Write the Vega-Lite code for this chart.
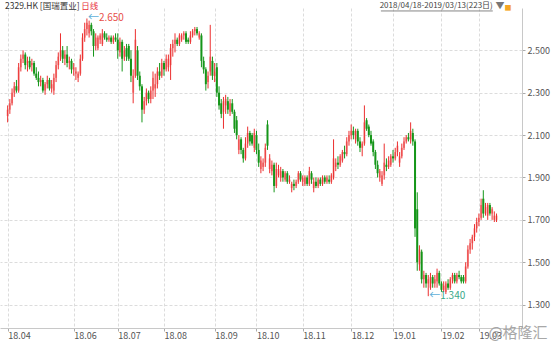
{
  "$schema": "https://vega.github.io/schema/vega-lite/v6.json",
  "width": 522,
  "height": 320,
  "autosize": {"type": "none"},
  "padding": {"left": 0, "top": 8, "right": 31, "bottom": 14},
  "background": "white",
  "config": {"view": {"stroke": null}, "font": "Noto Sans CJK SC"},
  "datasets": {
    "k": [
      {"i":0,"o":2.19,"h":2.24,"l":2.16,"c":2.22},{"i":1,"o":2.22,"h":2.27,"l":2.20,"c":2.25},{"i":2,"o":2.25,"h":2.32,"l":2.24,"c":2.30},{"i":3,"o":2.30,"h":2.35,"l":2.28,"c":2.33},{"i":4,"o":2.33,"h":2.36,"l":2.30,"c":2.31},{"i":5,"o":2.31,"h":2.44,"l":2.30,"c":2.42},{"i":6,"o":2.42,"h":2.48,"l":2.40,"c":2.46},{"i":7,"o":2.46,"h":2.50,"l":2.44,"c":2.48},{"i":8,"o":2.48,"h":2.49,"l":2.41,"c":2.43},{"i":9,"o":2.44,"h":2.47,"l":2.40,"c":2.45},
      {"i":10,"o":2.45,"h":2.47,"l":2.41,"c":2.42},{"i":11,"o":2.43,"h":2.46,"l":2.40,"c":2.44},{"i":12,"o":2.44,"h":2.45,"l":2.38,"c":2.39},{"i":13,"o":2.39,"h":2.42,"l":2.36,"c":2.37},{"i":14,"o":2.37,"h":2.40,"l":2.33,"c":2.35},{"i":15,"o":2.35,"h":2.38,"l":2.33,"c":2.36},{"i":16,"o":2.36,"h":2.37,"l":2.30,"c":2.31},{"i":17,"o":2.31,"h":2.35,"l":2.29,"c":2.34},{"i":18,"o":2.34,"h":2.38,"l":2.32,"c":2.36},{"i":19,"o":2.36,"h":2.37,"l":2.31,"c":2.32},
      {"i":20,"o":2.32,"h":2.36,"l":2.30,"c":2.34},{"i":21,"o":2.31,"h":2.39,"l":2.29,"c":2.37},{"i":22,"o":2.37,"h":2.45,"l":2.35,"c":2.43},{"i":23,"o":2.43,"h":2.49,"l":2.41,"c":2.47},{"i":24,"o":2.47,"h":2.58,"l":2.45,"c":2.50},{"i":25,"o":2.50,"h":2.52,"l":2.44,"c":2.46},{"i":26,"o":2.46,"h":2.50,"l":2.43,"c":2.48},{"i":27,"o":2.48,"h":2.52,"l":2.42,"c":2.44},{"i":28,"o":2.44,"h":2.47,"l":2.41,"c":2.45},{"i":29,"o":2.45,"h":2.46,"l":2.39,"c":2.41},
      {"i":30,"o":2.41,"h":2.44,"l":2.38,"c":2.42},{"i":31,"o":2.39,"h":2.42,"l":2.36,"c":2.40},{"i":32,"o":2.37,"h":2.40,"l":2.35,"c":2.39},{"i":33,"o":2.39,"h":2.48,"l":2.38,"c":2.46},{"i":34,"o":2.46,"h":2.58,"l":2.45,"c":2.56},{"i":35,"o":2.56,"h":2.63,"l":2.54,"c":2.60},{"i":36,"o":2.60,"h":2.65,"l":2.57,"c":2.63},{"i":37,"o":2.58,"h":2.64,"l":2.56,"c":2.62},{"i":38,"o":2.62,"h":2.63,"l":2.57,"c":2.59},{"i":39,"o":2.59,"h":2.60,"l":2.47,"c":2.52},
      {"i":40,"o":2.52,"h":2.58,"l":2.50,"c":2.56},{"i":41,"o":2.51,"h":2.57,"l":2.50,"c":2.56},{"i":42,"o":2.55,"h":2.58,"l":2.53,"c":2.57},{"i":43,"o":2.53,"h":2.60,"l":2.52,"c":2.58},{"i":44,"o":2.58,"h":2.59,"l":2.55,"c":2.56},{"i":45,"o":2.56,"h":2.58,"l":2.54,"c":2.55},{"i":46,"o":2.55,"h":2.57,"l":2.54,"c":2.56},{"i":47,"o":2.56,"h":2.57,"l":2.53,"c":2.54},{"i":48,"o":2.54,"h":2.57,"l":2.53,"c":2.56},{"i":49,"o":2.56,"h":2.58,"l":2.54,"c":2.55},
      {"i":50,"o":2.55,"h":2.58,"l":2.46,"c":2.50},{"i":51,"o":2.49,"h":2.56,"l":2.47,"c":2.54},{"i":52,"o":2.54,"h":2.55,"l":2.40,"c":2.46},{"i":53,"o":2.47,"h":2.52,"l":2.45,"c":2.50},{"i":54,"o":2.51,"h":2.53,"l":2.45,"c":2.47},{"i":55,"o":2.52,"h":2.53,"l":2.45,"c":2.46},{"i":56,"o":2.46,"h":2.50,"l":2.35,"c":2.38},{"i":57,"o":2.30,"h":2.41,"l":2.25,"c":2.38},{"i":58,"o":2.38,"h":2.60,"l":2.37,"c":2.55},{"i":59,"o":2.50,"h":2.52,"l":2.36,"c":2.38},
      {"i":60,"o":2.38,"h":2.40,"l":2.31,"c":2.33},{"i":61,"o":2.33,"h":2.34,"l":2.16,"c":2.22},{"i":62,"o":2.22,"h":2.28,"l":2.20,"c":2.26},{"i":63,"o":2.26,"h":2.32,"l":2.24,"c":2.30},{"i":64,"o":2.30,"h":2.31,"l":2.25,"c":2.27},{"i":65,"o":2.27,"h":2.33,"l":2.25,"c":2.31},{"i":66,"o":2.31,"h":2.40,"l":2.27,"c":2.37},{"i":67,"o":2.32,"h":2.39,"l":2.28,"c":2.34},{"i":68,"o":2.34,"h":2.42,"l":2.32,"c":2.40},{"i":69,"o":2.40,"h":2.44,"l":2.36,"c":2.38},
      {"i":70,"o":2.38,"h":2.46,"l":2.37,"c":2.44},{"i":71,"o":2.44,"h":2.45,"l":2.38,"c":2.41},{"i":72,"o":2.41,"h":2.48,"l":2.40,"c":2.46},{"i":73,"o":2.42,"h":2.48,"l":2.40,"c":2.46},{"i":74,"o":2.43,"h":2.53,"l":2.36,"c":2.51},{"i":75,"o":2.51,"h":2.55,"l":2.47,"c":2.53},{"i":76,"o":2.53,"h":2.58,"l":2.49,"c":2.55},{"i":77,"o":2.55,"h":2.56,"l":2.52,"c":2.53},{"i":78,"o":2.53,"h":2.58,"l":2.52,"c":2.57},{"i":79,"o":2.55,"h":2.58,"l":2.54,"c":2.57},
      {"i":80,"o":2.57,"h":2.59,"l":2.55,"c":2.58},{"i":81,"o":2.58,"h":2.59,"l":2.53,"c":2.54},{"i":82,"o":2.55,"h":2.56,"l":2.53,"c":2.54},{"i":83,"o":2.54,"h":2.59,"l":2.53,"c":2.57},{"i":84,"o":2.57,"h":2.60,"l":2.56,"c":2.59},{"i":85,"o":2.59,"h":2.61,"l":2.57,"c":2.60},{"i":86,"o":2.60,"h":2.61,"l":2.57,"c":2.58},{"i":87,"o":2.56,"h":2.59,"l":2.55,"c":2.58},{"i":88,"o":2.57,"h":2.58,"l":2.42,"c":2.45},{"i":89,"o":2.45,"h":2.47,"l":2.39,"c":2.41},
      {"i":90,"o":2.41,"h":2.42,"l":2.31,"c":2.34},{"i":91,"o":2.35,"h":2.40,"l":2.32,"c":2.38},{"i":92,"o":2.40,"h":2.62,"l":2.38,"c":2.47},{"i":93,"o":2.45,"h":2.47,"l":2.36,"c":2.38},{"i":94,"o":2.38,"h":2.44,"l":2.35,"c":2.40},{"i":95,"o":2.42,"h":2.44,"l":2.28,"c":2.30},{"i":96,"o":2.30,"h":2.33,"l":2.22,"c":2.24},{"i":97,"o":2.25,"h":2.27,"l":2.18,"c":2.20},{"i":98,"o":2.21,"h":2.28,"l":2.13,"c":2.26},{"i":99,"o":2.24,"h":2.29,"l":2.20,"c":2.27},
      {"i":100,"o":2.26,"h":2.28,"l":2.20,"c":2.22},{"i":101,"o":2.21,"h":2.27,"l":2.19,"c":2.25},{"i":102,"o":2.25,"h":2.27,"l":2.20,"c":2.21},{"i":103,"o":2.21,"h":2.22,"l":2.11,"c":2.13},{"i":104,"o":2.17,"h":2.19,"l":2.08,"c":2.10},{"i":105,"o":2.03,"h":2.10,"l":2.01,"c":2.08},{"i":106,"o":2.08,"h":2.09,"l":2.01,"c":2.03},{"i":107,"o":2.03,"h":2.04,"l":1.97,"c":1.99},{"i":108,"o":1.99,"h":2.09,"l":1.98,"c":2.06},{"i":109,"o":2.06,"h":2.14,"l":2.04,"c":2.11},
      {"i":110,"o":2.11,"h":2.12,"l":2.05,"c":2.07},{"i":111,"o":2.10,"h":2.11,"l":2.05,"c":2.06},{"i":112,"o":2.04,"h":2.13,"l":2.02,"c":2.11},{"i":113,"o":2.10,"h":2.12,"l":2.01,"c":2.03},{"i":114,"o":2.03,"h":2.06,"l":1.95,"c":1.97},{"i":115,"o":1.94,"h":2.00,"l":1.92,"c":1.98},{"i":116,"o":1.95,"h":1.99,"l":1.93,"c":1.97},{"i":117,"o":1.97,"h":2.06,"l":1.95,"c":2.04},{"i":118,"o":2.15,"h":2.17,"l":2.03,"c":2.05},{"i":119,"o":1.94,"h":2.01,"l":1.92,"c":1.99},
      {"i":120,"o":1.93,"h":1.98,"l":1.91,"c":1.96},{"i":121,"o":1.96,"h":1.97,"l":1.83,"c":1.86},{"i":122,"o":1.86,"h":1.97,"l":1.85,"c":1.94},{"i":123,"o":1.91,"h":1.96,"l":1.90,"c":1.94},{"i":124,"o":1.90,"h":1.95,"l":1.88,"c":1.93},{"i":125,"o":1.93,"h":1.94,"l":1.88,"c":1.90},{"i":126,"o":1.89,"h":1.93,"l":1.88,"c":1.92},{"i":127,"o":1.92,"h":1.93,"l":1.87,"c":1.88},{"i":128,"o":1.88,"h":1.91,"l":1.87,"c":1.89},{"i":129,"o":1.85,"h":1.88,"l":1.83,"c":1.87},
      {"i":130,"o":1.87,"h":1.89,"l":1.84,"c":1.86},{"i":131,"o":1.86,"h":1.89,"l":1.85,"c":1.88},{"i":132,"o":1.88,"h":1.93,"l":1.87,"c":1.92},{"i":133,"o":1.92,"h":1.93,"l":1.88,"c":1.89},{"i":134,"o":1.88,"h":1.91,"l":1.86,"c":1.90},{"i":135,"o":1.87,"h":1.91,"l":1.86,"c":1.90},{"i":136,"o":1.90,"h":1.91,"l":1.86,"c":1.87},{"i":137,"o":1.87,"h":1.95,"l":1.86,"c":1.93},{"i":138,"o":1.92,"h":1.93,"l":1.87,"c":1.89},{"i":139,"o":1.85,"h":1.90,"l":1.83,"c":1.88},
      {"i":140,"o":1.88,"h":1.90,"l":1.85,"c":1.86},{"i":141,"o":1.86,"h":1.90,"l":1.85,"c":1.89},{"i":142,"o":1.89,"h":1.90,"l":1.86,"c":1.87},{"i":143,"o":1.87,"h":1.91,"l":1.86,"c":1.90},{"i":144,"o":1.90,"h":1.91,"l":1.87,"c":1.88},{"i":145,"o":1.88,"h":1.91,"l":1.87,"c":1.90},{"i":146,"o":1.89,"h":1.91,"l":1.87,"c":1.88},{"i":147,"o":1.88,"h":1.92,"l":1.87,"c":1.91},{"i":148,"o":1.90,"h":2.08,"l":1.89,"c":1.99},{"i":149,"o":1.95,"h":1.99,"l":1.93,"c":1.97},
      {"i":150,"o":1.97,"h":2.00,"l":1.94,"c":1.96},{"i":151,"o":1.96,"h":2.01,"l":1.95,"c":2.00},{"i":152,"o":1.98,"h":2.03,"l":1.97,"c":2.02},{"i":153,"o":2.02,"h":2.05,"l":1.99,"c":2.01},{"i":154,"o":2.01,"h":2.09,"l":2.00,"c":2.07},{"i":155,"o":2.07,"h":2.12,"l":2.05,"c":2.10},{"i":156,"o":2.10,"h":2.15,"l":2.08,"c":2.12},{"i":157,"o":2.12,"h":2.14,"l":2.08,"c":2.10},{"i":158,"o":2.08,"h":2.13,"l":2.06,"c":2.12},{"i":159,"o":2.12,"h":2.13,"l":2.05,"c":2.07},
      {"i":160,"o":2.07,"h":2.09,"l":2.02,"c":2.04},{"i":161,"o":2.04,"h":2.07,"l":2.00,"c":2.06},{"i":162,"o":2.06,"h":2.24,"l":2.05,"c":2.16},{"i":163,"o":2.17,"h":2.18,"l":2.12,"c":2.13},{"i":164,"o":2.14,"h":2.15,"l":2.09,"c":2.10},{"i":165,"o":2.10,"h":2.12,"l":2.05,"c":2.06},{"i":166,"o":2.07,"h":2.08,"l":2.00,"c":2.02},{"i":167,"o":2.02,"h":2.03,"l":1.94,"c":1.96},{"i":168,"o":1.96,"h":1.98,"l":1.90,"c":1.92},{"i":169,"o":1.90,"h":1.94,"l":1.88,"c":1.93},
      {"i":170,"o":1.87,"h":1.93,"l":1.86,"c":1.91},{"i":171,"o":1.91,"h":2.06,"l":1.89,"c":1.97},{"i":172,"o":1.96,"h":1.99,"l":1.93,"c":1.95},{"i":173,"o":1.95,"h":2.00,"l":1.94,"c":1.98},{"i":174,"o":1.96,"h":2.01,"l":1.95,"c":2.00},{"i":175,"o":2.00,"h":2.03,"l":1.97,"c":1.99},{"i":176,"o":1.99,"h":2.04,"l":1.98,"c":2.02},{"i":177,"o":2.02,"h":2.07,"l":2.00,"c":2.05},{"i":178,"o":1.97,"h":2.02,"l":1.95,"c":2.00},{"i":179,"o":2.00,"h":2.06,"l":1.99,"c":2.04},
      {"i":180,"o":2.04,"h":2.09,"l":2.03,"c":2.07},{"i":181,"o":2.07,"h":2.10,"l":2.06,"c":2.09},{"i":182,"o":2.09,"h":2.11,"l":2.07,"c":2.08},{"i":183,"o":2.08,"h":2.16,"l":2.06,"c":2.12},{"i":184,"o":2.11,"h":2.13,"l":2.05,"c":2.07},{"i":185,"o":2.07,"h":2.08,"l":1.62,"c":1.66},{"i":186,"o":1.75,"h":1.83,"l":1.46,"c":1.50},{"i":187,"o":1.49,"h":1.58,"l":1.46,"c":1.56},{"i":188,"o":1.55,"h":1.56,"l":1.40,"c":1.42},{"i":189,"o":1.42,"h":1.46,"l":1.38,"c":1.44},
      {"i":190,"o":1.44,"h":1.45,"l":1.38,"c":1.40},{"i":191,"o":1.40,"h":1.44,"l":1.34,"c":1.42},{"i":192,"o":1.38,"h":1.45,"l":1.37,"c":1.43},{"i":193,"o":1.43,"h":1.44,"l":1.38,"c":1.40},{"i":194,"o":1.40,"h":1.44,"l":1.38,"c":1.42},{"i":195,"o":1.41,"h":1.47,"l":1.38,"c":1.45},{"i":196,"o":1.45,"h":1.46,"l":1.39,"c":1.40},{"i":197,"o":1.40,"h":1.41,"l":1.36,"c":1.37},{"i":198,"o":1.37,"h":1.41,"l":1.36,"c":1.39},{"i":199,"o":1.36,"h":1.41,"l":1.35,"c":1.40},
      {"i":200,"o":1.40,"h":1.42,"l":1.37,"c":1.38},{"i":201,"o":1.38,"h":1.43,"l":1.37,"c":1.42},{"i":202,"o":1.42,"h":1.45,"l":1.40,"c":1.44},{"i":203,"o":1.44,"h":1.45,"l":1.40,"c":1.41},{"i":204,"o":1.41,"h":1.45,"l":1.40,"c":1.44},{"i":205,"o":1.44,"h":1.46,"l":1.42,"c":1.43},{"i":206,"o":1.43,"h":1.44,"l":1.40,"c":1.41},{"i":207,"o":1.43,"h":1.44,"l":1.40,"c":1.41},{"i":208,"o":1.41,"h":1.50,"l":1.40,"c":1.48},{"i":209,"o":1.48,"h":1.58,"l":1.47,"c":1.56},
      {"i":210,"o":1.56,"h":1.61,"l":1.54,"c":1.59},{"i":211,"o":1.59,"h":1.63,"l":1.56,"c":1.62},{"i":212,"o":1.62,"h":1.68,"l":1.60,"c":1.66},{"i":213,"o":1.66,"h":1.71,"l":1.64,"c":1.69},{"i":214,"o":1.69,"h":1.73,"l":1.67,"c":1.71},{"i":215,"o":1.71,"h":1.80,"l":1.70,"c":1.77},{"i":216,"o":1.80,"h":1.84,"l":1.71,"c":1.73},{"i":217,"o":1.73,"h":1.78,"l":1.72,"c":1.76},{"i":218,"o":1.72,"h":1.78,"l":1.70,"c":1.77},{"i":219,"o":1.77,"h":1.78,"l":1.72,"c":1.73},
      {"i":220,"o":1.73,"h":1.76,"l":1.70,"c":1.75},{"i":221,"o":1.70,"h":1.74,"l":1.69,"c":1.72},{"i":222,"o":1.70,"h":1.73,"l":1.69,"c":1.72}
    ],
    "ann": [
      {"i":36,"p":2.65,"t":"2.650","k":"hi"},
      {"i":191,"p":1.34,"t":"1.340","k":"lo"}
    ]
  },
  "layer": [
    {
      "data": {"name": "k"},
      "mark": {"type": "bar", "size": 2},
      "encoding": {
        "x": {"field": "i", "type": "quantitative", "scale": {"domain": [-1.2, 231.3], "nice": false, "zero": false},
          "axis": {"orient": "bottom", "title": null, "values": [0,30,50,71,94,113,134,156,175,197,214],
            "labelExpr": "datum.value==0?'18.04':datum.value==30?'18.06':datum.value==50?'18.07':datum.value==71?'18.08':datum.value==94?'18.09':datum.value==113?'18.10':datum.value==134?'18.11':datum.value==156?'18.12':datum.value==175?'19.01':datum.value==197?'19.02':'19.03'",
            "labelAlign": "left", "labelFontSize": 9, "labelColor": "#555", "labelPadding": 0, "labelFlush": false, "labelOverlap": false,
            "tickSize": 3, "tickColor": "#aaa", "domainColor": "#c8c8c8", "grid": true, "gridColor": "#dcdcdc", "gridDash": [3, 2]}},
        "y": {"field": "o", "type": "quantitative", "scale": {"domain": [1.19, 2.6995], "nice": false, "zero": false},
          "axis": {"orient": "right", "title": null, "values": [1.3,1.5,1.7,1.9,2.1,2.3,2.5], "format": ".3f",
            "labelFontSize": 9, "labelColor": "#555", "labelPadding": 2, "tickSize": 3, "tickColor": "#aaa",
            "domainColor": "#c8c8c8", "grid": true, "gridColor": "#dcdcdc", "gridDash": [3, 2]}},
        "y2": {"field": "c"},
        "color": {"condition": {"test": "datum.c >= datum.o", "value": "#f49c9c"}, "value": "#16961a"}
      }
    },
    {
      "data": {"name": "k"},
      "mark": {"type": "rule", "strokeWidth": 1},
      "encoding": {
        "x": {"field": "i", "type": "quantitative"},
        "y": {"field": "l", "type": "quantitative"},
        "y2": {"field": "h"},
        "color": {"condition": {"test": "datum.c >= datum.o", "value": "#ec2f2f"}, "value": "#16961a"}
      }
    },
    {
      "data": {"name": "ann"},
      "mark": {"type": "text", "align": "left", "baseline": "middle", "dx": 1, "fontSize": 11, "color": "#5fb0d8"},
      "encoding": {
        "x": {"field": "i", "type": "quantitative"},
        "y": {"field": "p", "type": "quantitative"},
        "text": {"value": "←"}
      }
    },
    {
      "data": {"name": "ann"},
      "mark": {"type": "text", "align": "left", "baseline": "middle", "dx": 12, "fontSize": 10},
      "encoding": {
        "x": {"field": "i", "type": "quantitative"},
        "y": {"field": "p", "type": "quantitative"},
        "text": {"field": "t"},
        "color": {"condition": {"test": "datum.k == 'hi'", "value": "#e8504a"}, "value": "#3aa88a"}
      }
    },
    {
      "data": {"values": [{"t": "2329.HK [国瑞置业]"}]},
      "mark": {"type": "text", "align": "left", "baseline": "middle", "fontSize": 8.5, "color": "#333"},
      "encoding": {"x": {"datum": -1.2, "type": "quantitative"}, "y": {"datum": 2.709, "type": "quantitative"}, "text": {"field": "t"}}
    },
    {
      "data": {"values": [{"t": "日线"}]},
      "mark": {"type": "text", "align": "left", "baseline": "middle", "fontSize": 8.5, "color": "#e8303a"},
      "encoding": {"x": {"datum": 33.4, "type": "quantitative"}, "y": {"datum": 2.709, "type": "quantitative"}, "text": {"field": "t"}}
    },
    {
      "data": {"values": [{"t": "2018/04/18-2019/03/13(223日)"}]},
      "mark": {"type": "text", "align": "right", "baseline": "middle", "fontSize": 8, "color": "#444"},
      "encoding": {"x": {"datum": 220.3, "type": "quantitative"}, "y": {"datum": 2.709, "type": "quantitative"}, "text": {"field": "t"}}
    },
    {
      "data": {"values": [{"a": 1}]},
      "mark": {"type": "rule", "strokeWidth": 0.8, "color": "#666"},
      "encoding": {"x": {"datum": 169.5, "type": "quantitative"}, "x2": {"datum": 220.3}, "y": {"datum": 2.6855, "type": "quantitative"}}
    },
    {
      "data": {"values": [{"t": "▼"}]},
      "mark": {"type": "text", "align": "left", "baseline": "middle", "fontSize": 9, "color": "#777"},
      "encoding": {"x": {"datum": 221.5, "type": "quantitative"}, "y": {"datum": 2.709, "type": "quantitative"}, "text": {"field": "t"}}
    },
    {
      "data": {"values": [{"t": "■"}]},
      "mark": {"type": "text", "align": "center", "baseline": "middle", "fontSize": 7, "color": "#f5a623"},
      "encoding": {"x": {"datum": 227.2, "type": "quantitative"}, "y": {"datum": 2.7, "type": "quantitative"}, "text": {"field": "t"}}
    },
    {
      "data": {"values": [{"t": "@格隆汇"}]},
      "mark": {"type": "text", "align": "right", "baseline": "middle", "fontSize": 15, "color": "#9a9a9a", "opacity": 0.85},
      "encoding": {"x": {"datum": 245.2, "type": "quantitative"}, "y": {"datum": 1.166, "type": "quantitative"}, "text": {"field": "t"}}
    }
  ]
}
